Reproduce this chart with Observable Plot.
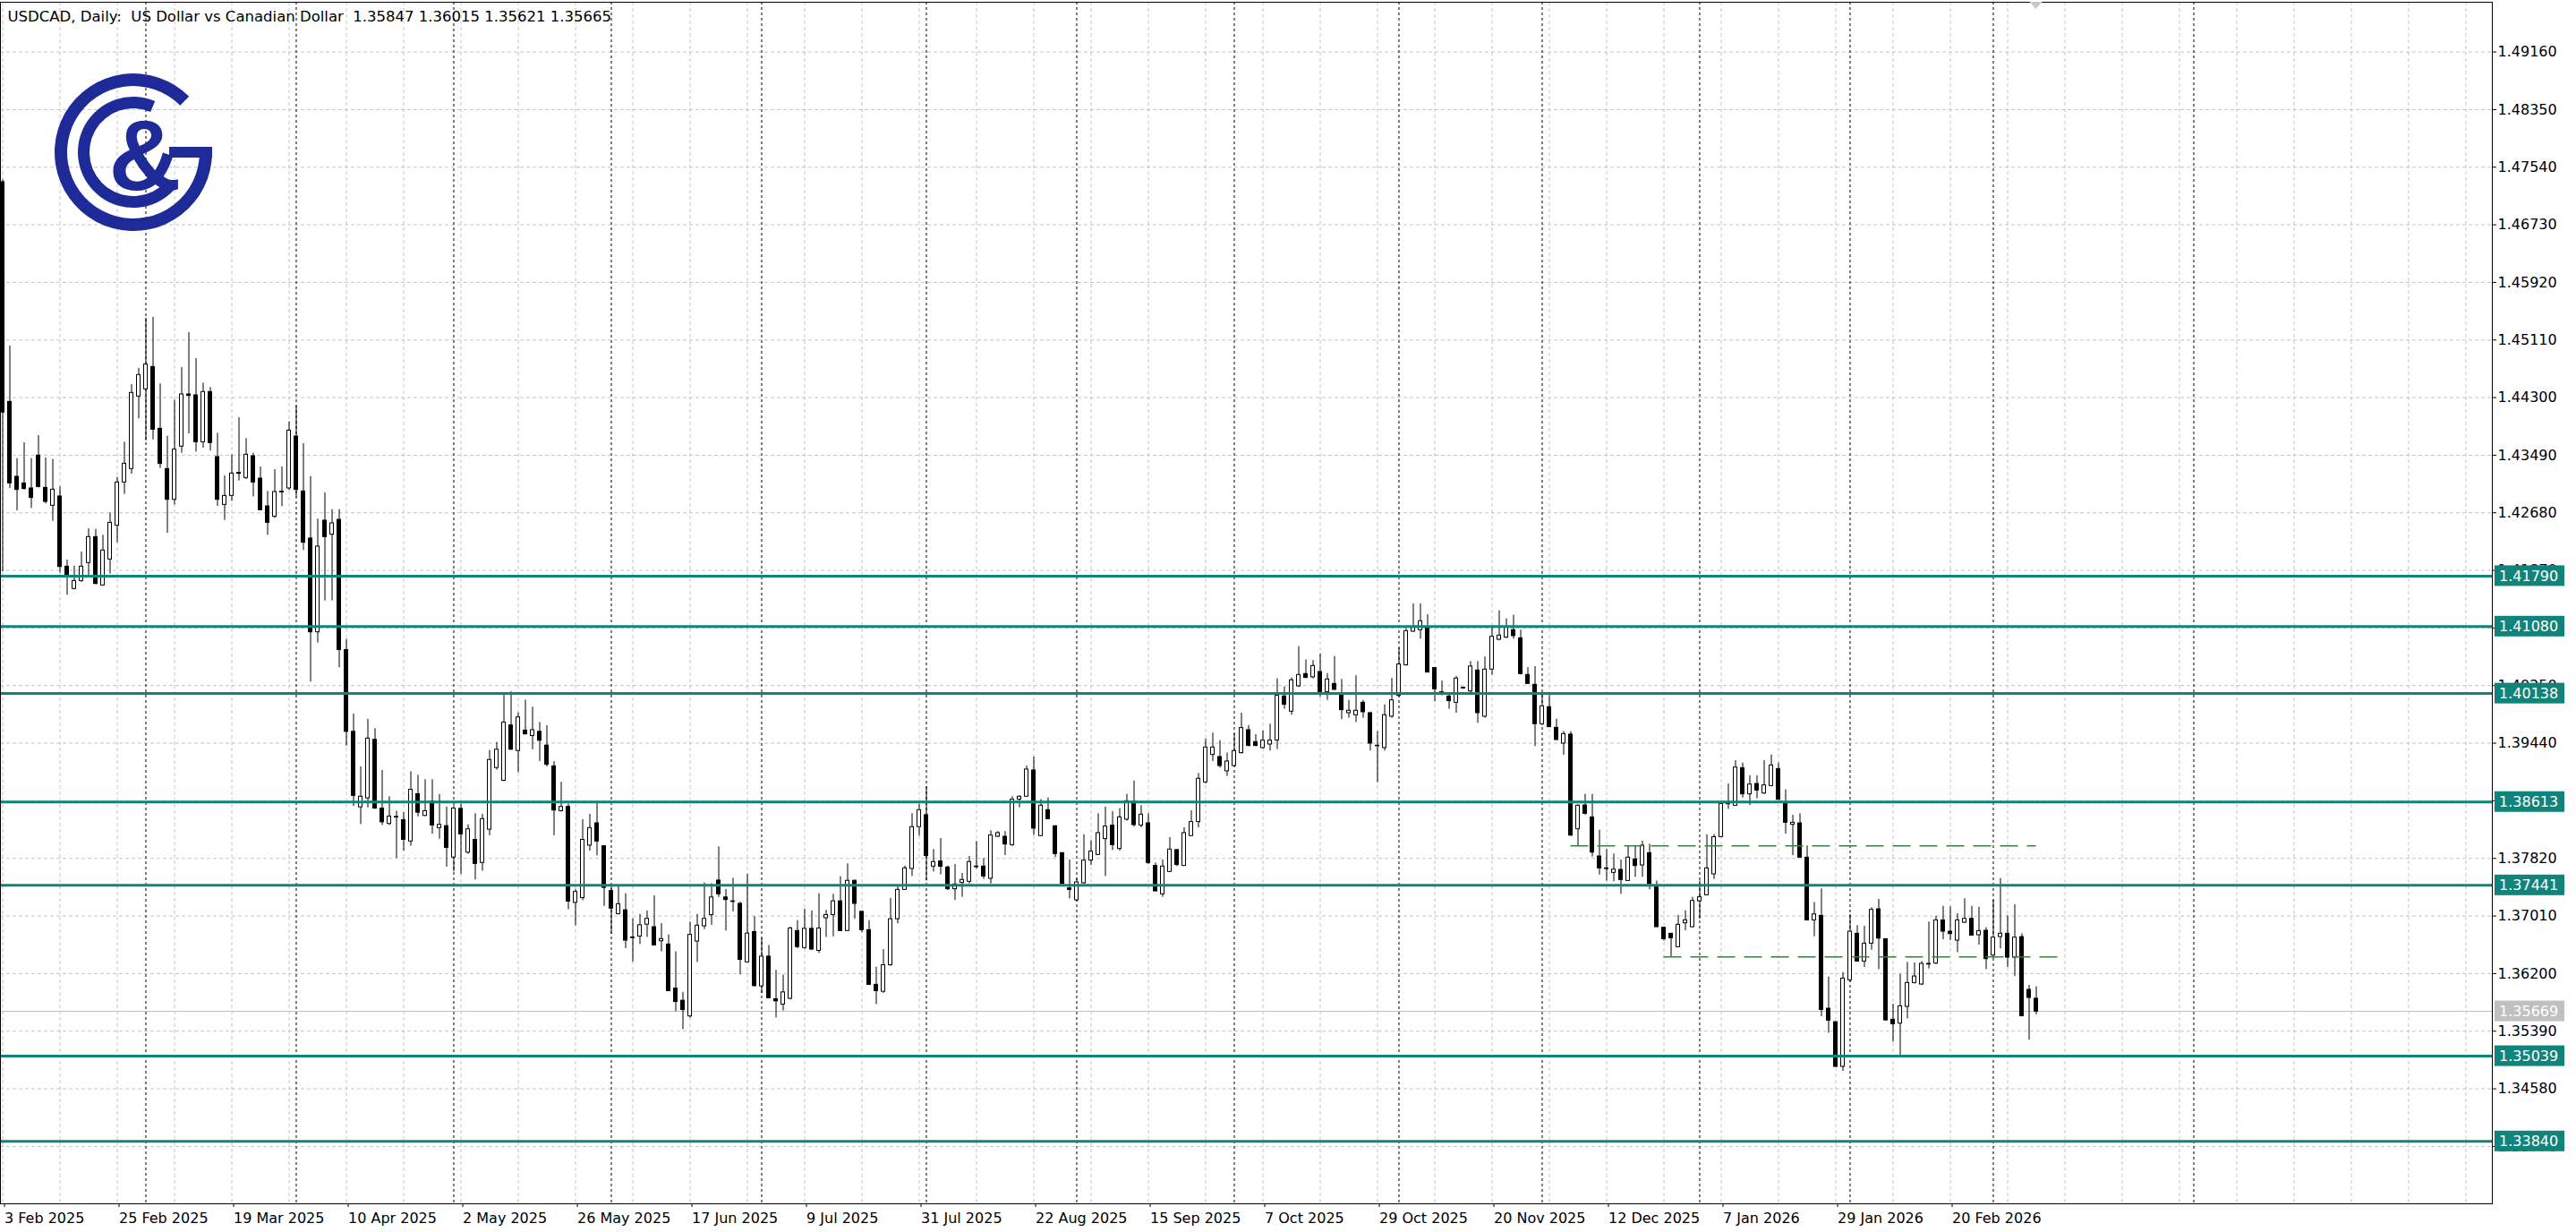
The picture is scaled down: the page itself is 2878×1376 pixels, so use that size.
<!DOCTYPE html>
<html><head><meta charset="utf-8">
<script src="https://cdn.jsdelivr.net/npm/d3@7"></script>
<script src="https://cdn.jsdelivr.net/npm/@observablehq/plot@0.6"></script>
<style>
html,body{margin:0;padding:0;background:#fff;overflow:hidden;}
#chart{width:2878px;height:1376px;}
svg text{white-space:pre;}
</style></head><body><div id="chart"></div>
<script>
const open = [
1.4733,1.4424,1.43187,1.43094,1.43023,1.43485,1.43031,1.42779,1.4291,1.41923,
1.41609,1.41722,1.41974,1.42339,1.41659,1.42024,1.42498,1.43107,1.43296,1.44316,
1.44416,1.44731,1.43862,1.43296,1.42863,1.43611,1.44345,1.44332,1.43673,1.44379,
1.43464,1.42792,1.42918,1.43241,1.4317,1.43476,1.43161,1.42771,1.42624,1.42977,
1.43023,1.43753,1.42981,1.42318,1.41,1.4257,1.42372,1.42582,1.4075,1.396,
1.38539,1.38665,1.39488,1.38521,1.38305,1.38404,1.38359,1.38058,1.38724,1.38418,
1.3862,1.38247,1.38274,1.37833,1.38517,1.37901,1.38081,1.37757,1.38224,1.39092,
1.38912,1.3969,1.39331,1.39618,1.39542,1.396,1.39407,1.39115,1.38485,1.38544,
1.37195,1.37262,1.38,1.38314,1.37991,1.37361,1.37037,1.37091,1.36709,1.36722,
1.36889,1.36853,1.36655,1.3661,1.3599,1.35819,1.35598,1.36651,1.36866,1.37024,
1.37509,1.37271,1.37217,1.37181,1.36358,1.36785,1.36021,1.36439,1.35841,1.35765,
1.35846,1.36799,1.36561,1.3683,1.3652,1.36979,1.37024,1.37217,1.36799,1.37505,
1.37069,1.36812,1.36043,1.35945,1.36318,1.36965,1.37378,1.37672,1.3826,1.38428,
1.37706,1.37777,1.37693,1.37387,1.37475,1.37492,1.37706,1.37706,1.37534,1.38125,
1.38125,1.38008,1.38646,1.38688,1.39057,1.38134,1.38499,1.38272,1.37895,1.37399,
1.37231,1.37471,1.3779,1.37869,1.38092,1.38281,1.37953,1.38365,1.38616,1.38281,
1.38314,1.37714,1.37315,1.3763,1.37937,1.37714,1.38134,1.38331,1.38889,1.39275,
1.39246,1.39045,1.3912,1.39301,1.39624,1.39456,1.39372,1.39422,1.39477,1.40098,
1.39884,1.40241,1.40413,1.40367,1.40442,1.40157,1.40274,1.40127,1.39863,1.39834,
1.4001,1.39863,1.39405,1.39372,1.39813,1.40106,1.40535,1.41009,1.4103,1.41059,
1.40497,1.40157,1.40098,1.4001,1.4022,1.40169,1.40463,1.39813,1.40476,1.40895,
1.40925,1.4103,1.40916,1.404,1.40262,1.39708,1.39947,1.39657,1.39435,1.39561,
1.3823,1.38565,1.38397,1.37848,1.3768,1.37617,1.37659,1.37503,1.37806,1.37722,
1.37894,1.37428,1.36845,1.36761,1.36572,1.36908,1.36853,1.37218,1.37302,1.37596,
1.3812,1.38582,1.38561,1.3909,1.38721,1.38867,1.38733,1.38838,1.39077,1.38595,
1.38293,1.38313,1.37831,1.36949,1.37012,1.35707,1.35518,1.34889,1.36106,1.36761,
1.3637,1.36622,1.37105,1.36685,1.35552,1.35497,1.35732,1.36068,1.36047,1.36337,
1.36341,1.36949,1.3679,1.36664,1.36916,1.3697,1.3674,1.36803,1.36454,1.36715,
1.36761,1.36425,1.36714,1.35972,1.35847];
const high = [
1.4736,1.45025,1.43443,1.43665,1.43443,1.43766,1.43451,1.4343,1.43044,1.42016,
1.41932,1.42129,1.42456,1.42448,1.42364,1.42679,1.43178,1.43673,1.44483,1.4471,
1.45415,1.45428,1.44492,1.43757,1.44261,1.44723,1.45214,1.44849,1.44504,1.44442,
1.43799,1.43199,1.43493,1.44018,1.43724,1.43518,1.43325,1.42981,1.43287,1.43325,
1.43959,1.44177,1.43652,1.43191,1.42591,1.4296,1.42725,1.42725,1.409,1.3985,
1.39106,1.39776,1.39645,1.39056,1.38688,1.38485,1.38463,1.39038,1.38989,1.38926,
1.38926,1.38719,1.38544,1.38562,1.38584,1.38292,1.38449,1.3844,1.3934,1.39452,
1.40113,1.40163,1.39866,1.40046,1.39947,1.39731,1.39686,1.39182,1.3889,1.38584,
1.37384,1.38364,1.3844,1.38589,1.38,1.37442,1.37428,1.37325,1.3697,1.37033,
1.37082,1.37294,1.36902,1.36745,1.36507,1.35936,1.36925,1.37033,1.37473,1.37464,
1.37982,1.37384,1.37541,1.37204,1.37595,1.37001,1.36695,1.36597,1.36246,1.36178,
1.36853,1.36947,1.37105,1.37082,1.37325,1.37091,1.37316,1.37563,1.37743,1.37518,
1.37069,1.36947,1.36291,1.36538,1.37258,1.3742,1.37714,1.38449,1.38583,1.38826,
1.37945,1.381,1.37714,1.37735,1.37609,1.37848,1.38058,1.37819,1.38209,1.38197,
1.38197,1.38688,1.387,1.3912,1.39246,1.38646,1.38671,1.38281,1.37895,1.37798,
1.37538,1.38155,1.38071,1.38449,1.38541,1.38478,1.3852,1.38721,1.3891,1.38562,
1.38449,1.37756,1.37798,1.38113,1.37945,1.38251,1.38491,1.39015,1.39498,1.39582,
1.39477,1.39301,1.39569,1.39863,1.39687,1.39561,1.39611,1.39708,1.40346,1.40232,
1.40358,1.40799,1.4061,1.40602,1.40694,1.40421,1.4066,1.40337,1.40043,1.40388,
1.40043,1.39876,1.39603,1.3998,1.4035,1.40778,1.41051,1.41399,1.41399,1.41248,
1.40497,1.40316,1.40148,1.40379,1.40232,1.40589,1.40589,1.40652,1.41072,1.41303,
1.41189,1.4124,1.4103,1.40505,1.40518,1.40148,1.40136,1.39779,1.39603,1.39603,
1.38575,1.38721,1.38721,1.38217,1.37944,1.37881,1.37797,1.37986,1.37986,1.38062,
1.3802,1.37503,1.36845,1.36761,1.37021,1.37084,1.37273,1.37503,1.38154,1.38154,
1.38616,1.38867,1.39195,1.39161,1.38982,1.38982,1.39195,1.39275,1.39161,1.38784,
1.38427,1.38448,1.37995,1.37201,1.3739,1.36152,1.35518,1.36215,1.37029,1.36874,
1.36866,1.37126,1.37243,1.36685,1.3577,1.3619,1.36358,1.3635,1.3637,1.36924,
1.37008,1.37147,1.37138,1.37042,1.37252,1.37147,1.37134,1.36845,1.37231,1.37537,
1.37012,1.37168,1.36761,1.36035,1.36015];
const low = [
1.4185,1.43023,1.42708,1.43,1.42742,1.4303,1.42805,1.42561,1.41835,1.4152,
1.41596,1.417,1.41764,1.41667,1.4165,1.41818,1.42259,1.42939,1.43224,1.44001,
1.43694,1.43707,1.43304,1.42393,1.42792,1.43518,1.43791,1.43535,1.4359,1.43548,
1.42771,1.42574,1.42842,1.43128,1.43149,1.42905,1.4271,1.42364,1.42603,1.42767,
1.42994,1.429,1.4215,1.403,1.4085,1.41441,1.41441,1.405,1.394,1.3855,
1.38296,1.3853,1.38508,1.38283,1.38283,1.3782,1.37923,1.37991,1.38404,1.38409,
1.38161,1.3809,1.37698,1.37631,1.37595,1.37878,1.37518,1.3764,1.38139,1.39061,
1.389,1.3934,1.39025,1.3956,1.39349,1.39182,1.39106,1.38139,1.38472,1.371,
1.36875,1.37226,1.37923,1.37856,1.37145,1.36754,1.37024,1.36552,1.36363,1.3661,
1.36709,1.36588,1.36507,1.3595,1.35666,1.35414,1.35576,1.36358,1.36821,1.3688,
1.37271,1.36799,1.37069,1.36183,1.36349,1.36012,1.35922,1.3585,1.35576,1.35675,
1.35832,1.36552,1.36543,1.36529,1.36484,1.36709,1.36718,1.3679,1.3679,1.36965,
1.36776,1.36034,1.35765,1.35922,1.36304,1.369,1.3737,1.37567,1.38134,1.37504,
1.3763,1.37588,1.3737,1.37231,1.37273,1.37462,1.37672,1.37525,1.37462,1.38113,
1.37861,1.37987,1.38533,1.3868,1.38142,1.3813,1.38365,1.37832,1.3742,1.37252,
1.3721,1.37462,1.37722,1.3786,1.37567,1.37932,1.37924,1.38344,1.3826,1.38251,
1.37735,1.37349,1.37273,1.37622,1.37706,1.3771,1.38125,1.38251,1.38868,1.39183,
1.39091,1.38973,1.3911,1.39288,1.39393,1.39393,1.39359,1.3933,1.39351,1.39918,
1.39834,1.40224,1.4035,1.40346,1.40085,1.40043,1.40185,1.39771,1.39792,1.39729,
1.39792,1.3933,1.38889,1.3933,1.39792,1.40085,1.40526,1.41,1.40904,1.4043,
1.40022,1.40106,1.39918,1.39863,1.40199,1.40148,1.3972,1.39792,1.404,1.40883,
1.40912,1.40904,1.404,1.4027,1.39393,1.39687,1.3966,1.39477,1.39271,1.3813,
1.37995,1.38428,1.37839,1.37587,1.37503,1.37491,1.37315,1.37495,1.37554,1.37554,
1.37378,1.3685,1.36656,1.36433,1.3657,1.36803,1.36845,1.36966,1.37294,1.37524,
1.38112,1.38511,1.38553,1.3867,1.38565,1.38658,1.38721,1.38826,1.38637,1.38162,
1.3786,1.37825,1.3694,1.36719,1.35594,1.35363,1.3488,1.34826,1.36076,1.36365,
1.36286,1.3653,1.36257,1.35531,1.35237,1.35048,1.35564,1.36055,1.36034,1.36265,
1.36328,1.36677,1.36664,1.36496,1.36907,1.36727,1.36601,1.36257,1.36412,1.36547,
1.36286,1.3616,1.35595,1.35266,1.35621];
const close = [
1.4409,1.43094,1.43002,1.43015,1.42889,1.43044,1.42834,1.43006,1.41919,1.41785,
1.41722,1.41923,1.42339,1.4168,1.4215,1.4254,1.43107,1.43371,1.44366,1.44618,
1.44765,1.4385,1.43367,1.42863,1.43569,1.44345,1.44324,1.43673,1.44379,1.43661,
1.42863,1.42918,1.43233,1.43229,1.43497,1.43107,1.42717,1.4254,1.42973,1.42968,
1.43837,1.43002,1.42259,1.41,1.42205,1.42339,1.42532,1.4075,1.396,1.387,
1.38688,1.39506,1.38521,1.38328,1.38409,1.38395,1.38081,1.38786,1.38463,1.38485,
1.38283,1.38292,1.37968,1.38521,1.38157,1.38229,1.37743,1.38373,1.39205,1.39349,
1.39731,1.39349,1.39803,1.39564,1.39623,1.39475,1.39137,1.38494,1.38544,1.37213,
1.37348,1.38081,1.38247,1.38058,1.37406,1.37114,1.37177,1.36664,1.367,1.3688,
1.3697,1.36597,1.36686,1.35954,1.35801,1.35688,1.36745,1.36875,1.3697,1.37271,
1.37316,1.37235,1.37208,1.36394,1.36763,1.36025,1.36439,1.35855,1.3581,1.35936,
1.36835,1.36574,1.3683,1.36538,1.36835,1.37024,1.37217,1.36799,1.37505,1.37181,
1.36812,1.36043,1.35954,1.36318,1.36965,1.37378,1.37681,1.3826,1.38499,1.37853,
1.37769,1.37702,1.37387,1.37454,1.37517,1.37769,1.37697,1.37567,1.38142,1.38176,
1.38016,1.38646,1.38688,1.3907,1.38239,1.38562,1.38373,1.37882,1.37462,1.37378,
1.37483,1.3779,1.37916,1.38176,1.38268,1.38008,1.38398,1.38625,1.38289,1.38436,
1.37756,1.37357,1.37706,1.37945,1.37727,1.38176,1.38331,1.3894,1.3938,1.3938,
1.3912,1.39183,1.3933,1.39653,1.39401,1.39401,1.39477,1.39477,1.40106,1.3998,
1.40325,1.404,1.40358,1.40526,1.40161,1.40337,1.4019,1.39905,1.39897,1.39897,
1.39876,1.39435,1.39397,1.39834,1.40043,1.40547,1.41017,1.41063,1.41156,1.40434,
1.40199,1.40148,1.40031,1.4035,1.40211,1.40518,1.39863,1.40476,1.40937,1.40954,
1.41063,1.40946,1.40413,1.40274,1.39708,1.3996,1.39666,1.39485,1.39569,1.38141,
1.38561,1.38448,1.37902,1.3768,1.37671,1.37663,1.37516,1.37831,1.37713,1.37999,
1.37461,1.36853,1.36685,1.36698,1.36887,1.36949,1.37222,1.37273,1.3768,1.3812,
1.38586,1.38595,1.39098,1.38721,1.38859,1.38775,1.38847,1.39128,1.38645,1.38322,
1.38322,1.37831,1.36949,1.37033,1.3569,1.35539,1.34889,1.36131,1.3679,1.3637,
1.36622,1.37096,1.36693,1.35543,1.35489,1.35741,1.36068,1.3616,1.36337,1.36328,
1.36949,1.3679,1.36756,1.36949,1.3697,1.36735,1.36798,1.36404,1.36706,1.36761,
1.36425,1.36706,1.35602,1.35858,1.35665];

const xTickIndex = [0,16,32,48,64,80,96,112,128,144,160,176,192,208,224,240,256,272];
const xTickLabels = ["3 Feb 2025","25 Feb 2025","19 Mar 2025","10 Apr 2025","2 May 2025","26 May 2025","17 Jun 2025","9 Jul 2025","31 Jul 2025","22 Aug 2025","15 Sep 2025","7 Oct 2025","29 Oct 2025","20 Nov 2025","12 Dec 2025","7 Jan 2026","29 Jan 2026","20 Feb 2026"];
const yTickValues = [1.33770,1.34580,1.35390,1.36200,1.37010,1.37820,1.38630,1.39440,1.40250,1.41060,1.41870,1.42680,1.43490,1.44300,1.45110,1.45920,1.46730,1.47540,1.48350,1.49160];
const gridIndex = [0,8,16,24,32,40,48,56,64,72,80,88,96,104,112,120,128,136,144,152,160,168,176,184,192,200,208,216,224,232,240,248,256,264,272,280,288,296,304,312,320,328,336,344];
const monthStartIndex = [20,41,63,85,106,129,150,172,195,215,237,258,278,306];
const levels = [1.41790,1.41080,1.40138,1.38613,1.37441,1.35039,1.33840];
const levelLabels = ["1.41790","1.41080","1.40138","1.38613","1.37441","1.35039","1.33840"];
const trendFrom = [219,232];
const trendTo = [284,288];
const trendPrice = [1.37995,1.36434];
const bidPrice = 1.35669;
const bidLabel = "1.35669";
const header = "USDCAD, Daily:  US Dollar vs Canadian Dollar  1.35847 1.36015 1.35621 1.35665";

const bars = open.map((o, i) => ({i, o, h: high[i], l: low[i], c: close[i]}));
const trends = trendFrom.map((f, k) => ({from: f, to: trendTo[k], price: trendPrice[k]}));
const TEAL = "#10837b";
const GRID = "#c4c4c4";

const chart = Plot.plot({
  width: 2878, height: 1376,
  marginLeft: 0, marginRight: 94, marginTop: 2, marginBottom: 32,
  x: {type: "linear", domain: [-0.3125, 347.6875]},
  y: {type: "linear", domain: [1.329627, 1.498598]},
  style: {fontFamily: "DejaVu Sans", fontSize: "16px", color: "#000", background: "#fff"},
  marks: [
    Plot.ruleY(yTickValues, {stroke: GRID, strokeDasharray: "4,3"}),
    Plot.ruleX(gridIndex, {stroke: GRID, strokeDasharray: "4,3"}),
    Plot.ruleX(monthStartIndex, {stroke: "#000", strokeDasharray: "3,3"}),
    Plot.ruleY([bidPrice], {stroke: "#c0c0c0"}),
    Plot.ruleX(bars, {x: "i", y1: "l", y2: "h", stroke: "#000", strokeWidth: 1}),
    Plot.rect(bars, {filter: d => d.c >= d.o, x1: d => d.i - 0.25, x2: d => d.i + 0.25, y1: "o", y2: "c", fill: "#fff", stroke: "#000", strokeWidth: 1}),
    Plot.rect(bars, {filter: d => d.c < d.o, x1: d => d.i - 0.25, x2: d => d.i + 0.25, y1: "c", y2: "o", fill: "#000", stroke: "#000", strokeWidth: 1}),
    Plot.ruleY(levels, {stroke: TEAL, strokeWidth: 3}),
    Plot.ruleY(trends, {x1: "from", x2: "to", y: "price", stroke: "#3d7d45", strokeWidth: 1.5, strokeDasharray: "20,10"}),
    Plot.frame({stroke: "#000"}),
    Plot.axisY({anchor: "right", ticks: yTickValues, tickFormat: d => d.toFixed(5), tickSize: 4, tickPadding: 2, fontSize: 16, label: null}),
    Plot.axisX({anchor: "bottom", ticks: xTickIndex, tickFormat: d => xTickLabels[xTickIndex.indexOf(d)], tickSize: 4, tickPadding: 6, textAnchor: "start", dx: 2, fontSize: 16, label: null}),
    Plot.text([header], {text: d => d, frameAnchor: "top-left", dx: 8, dy: 10, fontSize: 16.5, fill: "#000"})
  ]
});

document.getElementById("chart").appendChild(chart);

const svg = d3.select(chart);
const ys = chart.scale("y");
const xs = chart.scale("x");
const g = svg.append("g").attr("font-family", "DejaVu Sans").attr("font-size", 16).attr("text-anchor", "start");
function box(v, label, color) {
  const yy = ys.apply(v);
  g.append("rect").attr("x", 2787).attr("y", yy - 11.5).attr("width", 78).attr("height", 23).attr("fill", color);
  g.append("text").attr("x", 2792).attr("y", yy).attr("dy", "0.36em").attr("text-anchor", "start").attr("fill", "#fff").text(label);
}
levels.forEach((v, k) => box(v, levelLabels[k], TEAL));
box(bidPrice, bidLabel, "#c0c0c0");

// chart shift marker
const sx = xs.apply(bars.length - 1);
g.append("path").attr("d", `M${sx - 7},2L${sx + 7},2L${sx},10Z`).attr("fill", "#c8c8c8");

// logo
const BLUE = "#1d2a98";
const logo = svg.append("g");
logo.append("path").attr("fill", BLUE)
  .attr("d", "M211.2,107.8 A88,88 0 1 0 237,170 L223,170 A74,74 0 1 1 201.3,117.7 Z");
logo.append("rect").attr("fill", BLUE).attr("x", 189).attr("y", 164).attr("width", 48).attr("height", 12);
logo.append("path").attr("fill", BLUE)
  .attr("d", "M173.2,112.9 A62,62 0 1 0 194.3,212.3 L184.8,203.4 A49,49 0 1 1 168.1,124.9 Z");
logo.append("text").attr("x", 162).attr("y", 212).attr("text-anchor", "middle")
  .attr("font-family", "Liberation Sans").attr("font-weight", "bold").attr("font-size", 112)
  .attr("fill", BLUE).text("&");
</script>
</body></html>
